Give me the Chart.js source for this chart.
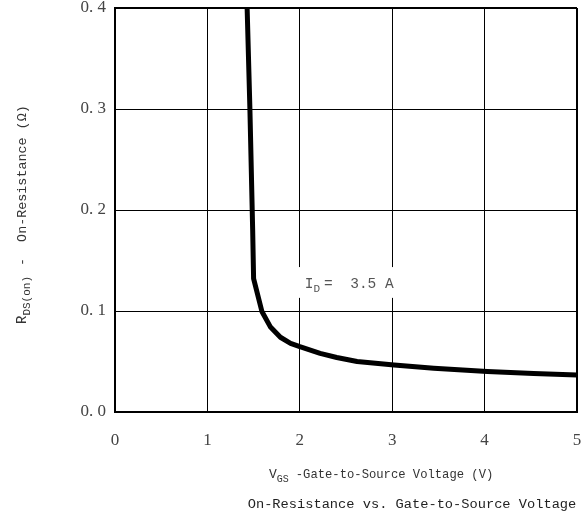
<!DOCTYPE html>
<html>
<head>
<meta charset="utf-8">
<script src="https://cdn.jsdelivr.net/npm/chart.js@4/dist/chart.umd.min.js"></script>
<style>
  html, body { margin: 0; padding: 0; background: #fff; }
  #wrap { width: 586px; height: 530px; }
</style>
</head>
<body>
<div id="wrap"><canvas id="rdsChart" width="586" height="530"></canvas></div>
<script>
// gate voltage (V) and on-resistance (ohm)
var vgs = [1.43, 1.46, 1.49, 1.50, 1.59, 1.68, 1.79, 1.90, 2.0, 2.22, 2.40, 2.62, 3.02, 3.45, 4.03, 4.53, 5.0];
var rds = [0.400, 0.300, 0.180, 0.132, 0.0995, 0.0845, 0.074, 0.068, 0.0647, 0.058, 0.054, 0.050, 0.0465, 0.0433, 0.040, 0.038, 0.0366];
var xTicks = [0, 1, 2, 3, 4, 5];
var yTicks = [0.0, 0.1, 0.2, 0.3, 0.4];
var currentLabel = "3.5 A";

var monoFont = "'Liberation Mono', 'DejaVu Sans Mono', monospace";
var serifFont = "'Liberation Serif', 'DejaVu Serif', serif";

var points = [];
for (let i = 0; i < vgs.length; i++) {
  points.push({ x: vgs[i], y: rds[i] });
}

// text with a subscript part, drawn left to right from x
function drawSub(ctx, x, y, parts) {
  parts.forEach(function(p) {
    ctx.font = p.size + "px " + (p.font || monoFont);
    ctx.fillText(p.text, x, y + (p.dy || 0));
    x += ctx.measureText(p.text).width + (p.gap || 0);
  });
  return x;
}

var labelsPlugin = {
  id: "labelsPlugin",
  afterDatasetsDraw: function(chart) {
    var ctx = chart.ctx;
    var xs = chart.scales.x, ys = chart.scales.y;
    ctx.save();
    // I_D label box, masks the grid lines behind it
    var bx0 = xs.getPixelForValue(2) - 1;
    var bx1 = xs.getPixelForValue(3) + 13;
    var by0 = ys.getPixelForValue(0.1435);
    var by1 = ys.getPixelForValue(0.113);
    ctx.fillStyle = "#fff";
    ctx.fillRect(bx0, by0, bx1 - bx0, by1 - by0);
    ctx.fillStyle = "#555";
    ctx.textBaseline = "alphabetic";
    drawSub(ctx, bx0 + 6, by0 + 21, [
      { text: "I", size: 14.5 },
      { text: "D", size: 11, dy: 4, gap: 4 },
      { text: "=  " + currentLabel, size: 14.5 }
    ]);

    // x axis title
    ctx.fillStyle = "#333";
    drawSub(ctx, 269, 478, [
      { text: "V", size: 13 },
      { text: "GS", size: 10, dy: 4, gap: 7 },
      { text: "-Gate-to-Source Voltage (V)", size: 12.2 }
    ]);

    // chart title
    ctx.fillStyle = "#222";
    ctx.font = "13.7px " + monoFont;
    ctx.textAlign = "center";
    ctx.fillText("On-Resistance vs. Gate-to-Source Voltage", 412, 508);

    // y axis title, rotated
    ctx.textAlign = "left";
    ctx.fillStyle = "#333";
    ctx.translate(26, 324);
    ctx.rotate(-Math.PI / 2);
    drawSub(ctx, 0, 0, [
      { text: "R", size: 14 },
      { text: "DS(on)", size: 11, dy: 4, gap: 10 },
      { text: "-  On-Resistance (\u03A9)", size: 13.4 }
    ]);
    ctx.restore();
  }
};

function gridWidth(c) {
  return (c.index === 0 || c.index === c.chart.scales[c.scale.id].ticks.length - 1) ? 2 : 1;
}

const dataRds = {
  datasets: [
    {
      label: "R_DS(on)",
      data: points,
      borderColor: "#000",
      borderWidth: 5,
      pointRadius: 0,
      tension: 0,
      fill: false,
      borderJoinStyle: "round",
      borderCapStyle: "butt"
    }
  ]
};

const configRds = {
  type: "line",
  data: dataRds,
  options: {
    responsive: false,
    animation: false,
    layout: { padding: { left: 0, top: 8, right: 9, bottom: 0 } },
    plugins: {
      legend: { display: false },
      title: { display: false },
      tooltip: { enabled: false }
    },
    scales: {
      x: {
        type: "linear",
        min: 0,
        max: 5,
        afterBuildTicks: function(s) { s.ticks = xTicks.map(function(v) { return { value: v }; }); },
        afterFit: function(s) {
          s.height = 118;
          s.paddingLeft = 0;
          s.paddingRight = 0;
        },
        grid: { color: "#000", lineWidth: gridWidth, drawTicks: false },
        border: { color: "#000", width: 2 },
        ticks: {
          padding: 18,
          color: "#444",
          font: { family: serifFont, size: 17 },
          maxRotation: 0,
          callback: function(v) { return String(v); }
        }
      },
      y: {
        type: "linear",
        min: 0,
        max: 0.4,
        afterBuildTicks: function(s) { s.ticks = yTicks.map(function(v) { return { value: v }; }); },
        afterFit: function(s) {
          s.width = 115;
          s.paddingTop = 0;
          s.paddingBottom = 0;
        },
        grid: { color: "#000", lineWidth: gridWidth, drawTicks: false },
        border: { color: "#000", width: 2 },
        ticks: {
          padding: 9,
          color: "#444",
          font: { family: serifFont, size: 17 },
          callback: function(v) { return v.toFixed(1).replace(".", ". "); }
        }
      }
    }
  },
  plugins: [labelsPlugin]
};

var rdsChart = new Chart(document.getElementById("rdsChart"), configRds);
</script>
</body>
</html>
